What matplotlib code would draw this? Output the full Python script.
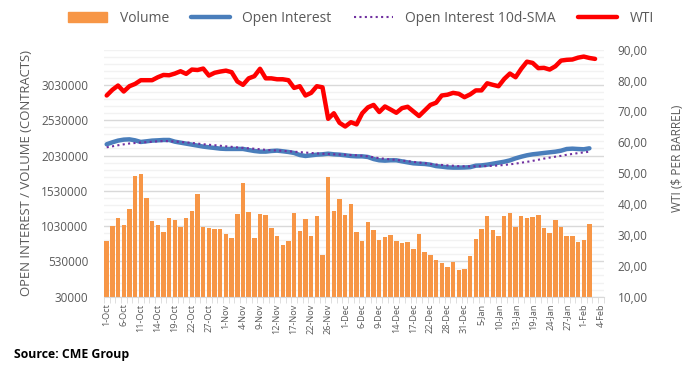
import matplotlib.pyplot as plt
import numpy as np
from matplotlib.ticker import FuncFormatter
from matplotlib.lines import Line2D
from matplotlib.patches import Patch

plt.rcParams['font.family'] = ['Open Sans', 'DejaVu Sans']

# tick labels every third trading day
tick_labels = ['1-Oct', '6-Oct', '11-Oct', '14-Oct', '19-Oct', '22-Oct', '27-Oct',
               '1-Nov', '4-Nov', '9-Nov', '12-Nov', '17-Nov', '22-Nov', '26-Nov',
               '1-Dec', '6-Dec', '9-Dec', '14-Dec', '17-Dec', '22-Dec', '28-Dec',
               '31-Dec', '5-Jan', '10-Jan', '13-Jan', '19-Jan', '24-Jan', '27-Jan',
               '1-Feb', '4-Feb']
n_days = 88

# volume (millions of contracts)
volume = [0.819, 1.027, 1.140, 1.041, 1.268, 1.740, 1.764, 1.424, 1.098, 1.041,
          0.946, 1.140, 1.112, 1.017, 1.140, 1.240, 1.480, 1.013, 0.999, 0.985,
          0.985, 0.914, 0.857, 1.201, 1.640, 1.225, 0.857, 1.201, 1.183, 0.999,
          0.885, 0.758, 0.815, 1.211, 0.956, 1.126, 0.885, 1.169, 0.625, 1.721,
          1.240, 1.410, 1.183, 1.339, 0.942, 0.815, 1.092, 0.970, 0.829, 0.880,
          0.908, 0.815, 0.786, 0.800, 0.710, 0.914, 0.667, 0.625, 0.550, 0.503,
          0.446, 0.517, 0.404, 0.418, 0.602, 0.843, 0.985, 1.169, 0.970, 0.885,
          1.169, 1.211, 1.013, 1.169, 1.149, 1.163, 1.183, 0.999, 0.928, 1.112,
          1.013, 0.885, 0.885, 0.800, 0.829, 1.055]

open_interest = [2.189, 2.217, 2.241, 2.255, 2.259, 2.245, 2.222, 2.231, 2.241, 2.245,
                 2.250, 2.250, 2.226, 2.212, 2.198, 2.184, 2.170, 2.156, 2.146, 2.137,
                 2.127, 2.123, 2.123, 2.123, 2.123, 2.108, 2.094, 2.085, 2.085, 2.094,
                 2.099, 2.090, 2.080, 2.066, 2.037, 2.023, 2.033, 2.042, 2.047, 2.056,
                 2.047, 2.042, 2.033, 2.023, 2.018, 2.018, 2.009, 1.980, 1.962, 1.957,
                 1.962, 1.962, 1.947, 1.933, 1.919, 1.914, 1.910, 1.900, 1.880, 1.872,
                 1.862, 1.858, 1.858, 1.860, 1.865, 1.886, 1.890, 1.900, 1.914, 1.928,
                 1.942, 1.961, 1.990, 2.013, 2.033, 2.047, 2.056, 2.066, 2.075, 2.084,
                 2.098, 2.122, 2.127, 2.122, 2.118, 2.132]

oi_sma = [2.146, 2.160, 2.175, 2.188, 2.200, 2.207, 2.214, 2.219, 2.225, 2.231,
          2.235, 2.233, 2.228, 2.222, 2.216, 2.208, 2.199, 2.190, 2.182, 2.176,
          2.168, 2.160, 2.153, 2.145, 2.138, 2.132, 2.126, 2.119, 2.110, 2.105,
          2.100, 2.096, 2.090, 2.084, 2.078, 2.072, 2.066, 2.060, 2.055, 2.051,
          2.047, 2.044, 2.041, 2.037, 2.033, 2.026, 2.018, 2.005, 1.992, 1.983,
          1.975, 1.968, 1.958, 1.950, 1.940, 1.930, 1.921, 1.910, 1.902, 1.896,
          1.890, 1.885, 1.879, 1.877, 1.876, 1.877, 1.878, 1.880, 1.884, 1.889,
          1.896, 1.905, 1.915, 1.928, 1.940, 1.954, 1.970, 1.986, 2.000, 2.013,
          2.025, 2.040, 2.052, 2.064, 2.074, 2.084]

wti = [75.15, 76.98, 78.37, 76.44, 78.15, 78.90, 80.10, 80.10, 80.10, 81.06,
       81.80, 81.70, 82.25, 83.00, 82.15, 83.55, 83.40, 83.87, 81.60, 82.50,
       82.90, 83.20, 82.70, 79.70, 78.60, 80.70, 81.40, 83.80, 80.70, 80.70,
       80.40, 80.40, 80.10, 77.60, 78.15, 75.15, 76.00, 78.15, 77.80, 67.60,
       69.40, 66.30, 65.10, 66.50, 65.80, 69.40, 71.30, 72.10, 69.80, 71.60,
       70.60, 69.55, 71.05, 71.50, 70.00, 68.50, 70.30, 72.10, 72.80, 75.15,
       75.40, 76.00, 75.70, 74.60, 75.50, 76.80, 76.80, 79.10, 78.60, 78.15,
       80.50, 82.25, 81.06, 83.80, 86.10, 85.70, 84.00, 84.10, 83.55, 84.60,
       86.45, 86.70, 86.80, 87.40, 87.75, 87.30, 87.00]

grey = '#595959'
orange = '#f79646'
blue = '#4a7ebb'
purple = '#7030a0'
red = '#ff0000'

fig = plt.figure(figsize=(6.97, 3.76), dpi=100)
ax = fig.add_axes([0.149, 0.211, 0.717, 0.657])
ax2 = ax.twinx()

ax.bar(np.arange(len(volume)), np.array(volume) * 1e6, width=0.78, color=orange,
       edgecolor='none', zorder=2)
ax.plot(np.arange(len(open_interest)), np.array(open_interest) * 1e6,
        color=blue, lw=3.2, solid_capstyle='round', zorder=3)
ax.plot(np.arange(len(oi_sma)), np.array(oi_sma) * 1e6, color=purple,
        lw=1.5, ls=(0, (1, 1.6)), zorder=4)
ax2.plot(np.arange(len(wti)), wti, color=red, lw=3.2,
         solid_capstyle='round', zorder=5)

ax.set_xlim(-0.5, n_days - 0.5)
ax.set_ylim(30000, 3530000)
ax2.set_ylim(10, 90)
ax.set_yticks(np.arange(30000, 3030001, 500000))
ax.set_yticks(np.arange(30000, 3530001, 100000), minor=True)
ax.yaxis.set_major_formatter(FuncFormatter(lambda v, p: '%d' % round(v)))
ax2.set_yticks(np.arange(10, 91, 10))
ax2.yaxis.set_major_formatter(FuncFormatter(lambda v, p: ('%.2f' % v).replace('.', ',')))

ax.grid(axis='y', which='major', color='#d9d9d9', lw=1, zorder=0)
ax.grid(axis='y', which='minor', color='#f2f2f2', lw=1, zorder=0)
ax.set_axisbelow(True)

ax.set_xticks(np.arange(0, n_days, 3))
ax.set_xticklabels(tick_labels, rotation=90, fontsize=6.6, color=grey)
ax.set_xticks(np.arange(-0.5, n_days, 1), minor=True)
ax.tick_params(axis='x', which='major', length=0, pad=5)
ax.tick_params(axis='x', which='minor', length=4, color='#d9d9d9')
ax.tick_params(axis='y', which='both', length=0, labelsize=8.5, labelcolor=grey, pad=11)
ax2.tick_params(axis='y', length=0, labelsize=8.5, labelcolor=grey, pad=10)

for a in (ax, ax2):
    for s in ('top', 'right', 'left'):
        a.spines[s].set_visible(False)
ax2.spines['bottom'].set_visible(False)
ax.spines['bottom'].set_color('#d9d9d9')

ax.set_ylabel('OPEN INTEREST / VOLUME (CONTRACTS)', fontsize=9.45, color=grey)
ax.yaxis.set_label_coords(-0.142, 0.5)
ax2.set_ylabel('WTI ($ PER BARREL)', fontsize=8.6, color=grey)
ax2.yaxis.set_label_coords(1.135, 0.56)

handles = [Patch(color=orange),
           Line2D([], [], color=blue, lw=3.2, solid_capstyle='round'),
           Line2D([], [], color=purple, lw=1.5, ls=(0, (1, 1.6))),
           Line2D([], [], color=red, lw=3.2, solid_capstyle='round')]
fig.legend(handles, ['Volume', 'Open Interest', 'Open Interest 10d-SMA', 'WTI'],
           loc='center', bbox_to_anchor=(0.518, 0.952), ncol=4, frameon=False,
           fontsize=10, labelcolor=grey, handlelength=2.8, handleheight=0.7,
           handletextpad=0.9, columnspacing=1.6)

fig.text(0.02, 0.056, 'Source: CME Group', fontsize=8.8, fontweight='bold', va='center')

fig.savefig('out.png', dpi=100)
